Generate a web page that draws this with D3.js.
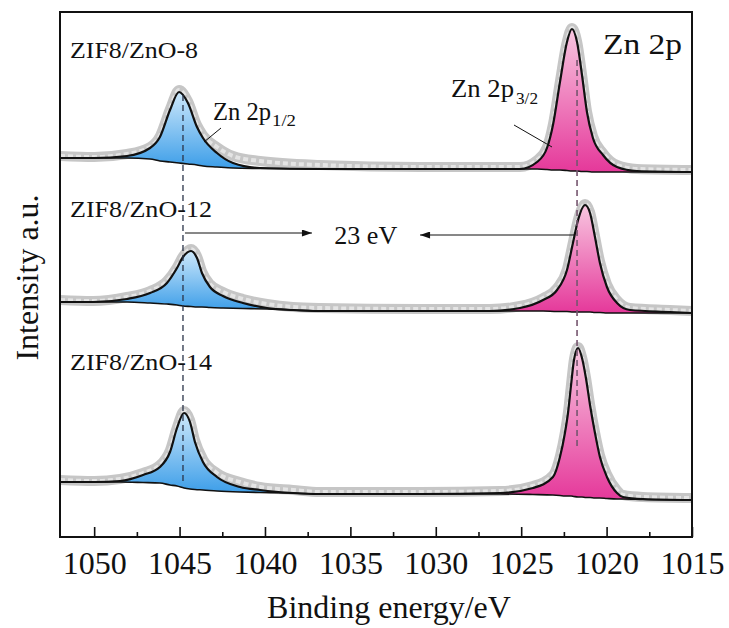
<!DOCTYPE html>
<html>
<head>
<meta charset="utf-8">
<title>Zn 2p XPS</title>
<script src="https://cdn.jsdelivr.net/npm/d3@7"></script>
<style>
  body { margin: 0; background: #fff; }
</style>
</head>
<body>
<script>

// binding energy (eV) and stacked intensity (a.u.)
// ZIF8/ZnO-8 (top)
let energy8 = [1052, 1050.0, 1048.08, 1046.73, 1046.15, 1045.56, 1045.03, 1044.51, 1043.98, 1043.63,
  1042.81, 1041.87, 1040.29, 1036.78, 1030.92, 1025.07, 1024.07, 1023.49, 1023.14, 1022.73,
  1022.32, 1022.03, 1021.73, 1021.44, 1021.15, 1020.80, 1020.21, 1019.39, 1018.22, 1015];
let fit8 = [379, 379, 381, 389, 400, 427, 445, 434, 410, 399,
  384, 374, 369, 368, 368, 368, 375, 389, 412, 455,
  495, 508, 495, 462, 425, 399, 382, 370, 366, 365];
let bg8 = [379, 379, 379, 378, 376, 375, 374, 373, 372, 371,
  370, 369, 368.5, 368, 368, 368, 368, 367.5, 367, 367,
  366.5, 366, 366, 365.5, 365.5, 365, 365, 365, 365, 365];
let raw8 = [381, 380, 383, 390, 401, 428, 447, 436, 412, 402,
  390, 381, 376, 372, 370, 370, 377, 390, 413, 456,
  496, 509, 496, 463, 426, 401, 384, 372, 368, 367];

// ZIF8/ZnO-12 (middle)
let energy12 = [1052, 1050.07, 1048.08, 1046.73, 1045.74, 1045.15, 1044.80, 1044.33, 1043.98, 1043.69,
  1043.22, 1042.46, 1041.29, 1039.88, 1038.36, 1036.78, 1030.92, 1026.83, 1025.07, 1023.72,
  1022.90, 1022.32, 1021.97, 1021.67, 1021.26, 1020.97, 1020.68, 1020.39, 1019.98, 1019.39,
  1018.63, 1016.29, 1015];
let fit12 = [235, 235, 238, 244, 254, 269, 280, 286, 279, 264,
  250, 241, 234, 229, 227, 226, 226, 226, 229, 237,
  247, 267, 294, 317, 332, 324, 300, 274, 250, 234,
  227, 225, 224];
let bg12 = [235, 235, 235, 234, 233, 232, 231, 230.5, 230, 230,
  229.5, 229, 228.5, 228, 227, 226, 226, 226, 226, 226,
  225.5, 225.5, 225, 225, 225, 225, 224.5, 224.5, 224, 224,
  224, 224, 224];
let raw12 = [237, 236, 240, 246, 256, 270, 281, 288, 281, 266,
  253, 245, 238, 233, 230, 229, 228, 228, 231, 239,
  249, 268, 295, 318, 333, 325, 301, 276, 253, 237,
  229, 227, 226];

// ZIF8/ZnO-14 (bottom)
let energy14 = [1052, 1050.0, 1048.49, 1047.14, 1046.15, 1045.56, 1045.15, 1044.74, 1044.39, 1044.10,
  1043.63, 1042.81, 1041.46, 1040.29, 1038.36, 1036.78, 1030.92, 1026.24, 1024.31, 1023.14,
  1022.73, 1022.44, 1022.26, 1022.08, 1021.91, 1021.67, 1021.44, 1021.21, 1020.97, 1020.68,
  1020.39, 1019.98, 1019.39, 1019.04, 1017.87, 1015];
let fit14 = [55, 55, 56, 62, 70, 85, 109, 124, 115, 95,
  75, 60, 50, 47, 44, 43, 43, 44, 49, 60,
  80, 104, 124, 152, 177, 189, 179, 159, 132, 104,
  80, 60, 44, 40, 38, 37];
let bg14 = [55, 55, 55, 54.5, 54, 52, 51, 49, 48, 47.5,
  47, 46, 45, 44.5, 44, 43, 43, 43, 42.5, 42,
  41.5, 41, 41, 41, 40.5, 40, 40, 39.5, 39.5, 39,
  39, 38.5, 38, 38, 37.5, 37];
let raw14 = [57, 56, 58, 64, 72, 87, 110, 126, 117, 97,
  78, 64, 55, 50, 47, 45, 45, 46, 51, 62,
  81, 105, 125, 153, 178, 190, 180, 160, 133, 105,
  82, 63, 47, 42, 40, 39];

let sampleNames = ['ZIF8/ZnO-8', 'ZIF8/ZnO-12', 'ZIF8/ZnO-14'];
let xTicks = [1050, 1045, 1040, 1035, 1030, 1025, 1020, 1015];
let xMinorTicks = [1047.5, 1042.5, 1037.5, 1032.5, 1027.5, 1022.5, 1017.5];
// peak positions of the dashed guides (eV)
let peakLines = [1044.8, 1021.73];
// energy splitting 2p1/2 (blue) and 2p3/2 (pink) components
let splitEnergy = 1033;

let serif = 'Liberation Serif';

window.onload = function() {
  draw();
};

function svg_element(margin, w, h) {
  let svg = d3.select('body')
    .append('svg')
    .attr('width', w + margin.left + margin.right)
    .attr('height', h + margin.top + margin.bottom)
    .append('g')
    .attr('transform', `translate(${margin.left},${margin.top})`);
  return svg;
}

function gradient(defs, id, top, bottom) {
  let g = defs.append('linearGradient')
    .attr('id', id)
    .attr('x1', 0).attr('y1', 0)
    .attr('x2', 0).attr('y2', 1);
  g.append('stop').attr('offset', '0%').attr('stop-color', top);
  g.append('stop').attr('offset', '100%').attr('stop-color', bottom);
}

// plain serif text, optionally squeezed/stretched to a given width
function label(svg, x, y, size, str, len) {
  let t = svg.append('text')
    .attr('x', x)
    .attr('y', y)
    .attr('font-family', serif)
    .attr('font-size', size)
    .attr('fill', '#111')
    .text(str);
  if (len) {
    t.attr('textLength', len).attr('lengthAdjust', 'spacingAndGlyphs');
  }
  return t;
}

function draw() {

  let margin = {top: 12, right: 37, bottom: 91, left: 60};
  let w = 729 - margin.left - margin.right;
  let h = 628 - margin.top - margin.bottom;
  let svg = svg_element(margin, w, h);

  let x = d3.scaleLinear().domain([1052, 1015]).range([0, w]);
  let y = d3.scaleLinear().domain([0, 525]).range([h, 0]);

  let defs = svg.append('defs');
  gradient(defs, 'blueGrad', '#cde8fb', '#3b9de8');
  gradient(defs, 'pinkGrad', '#f8c6e0', '#e5389a');
  defs.append('clipPath').attr('id', 'plotClip')
    .append('rect').attr('width', w).attr('height', h);
  defs.append('marker')
    .attr('id', 'arrow')
    .attr('viewBox', '0 0 10 7')
    .attr('refX', 10).attr('refY', 3.5)
    .attr('markerWidth', 11).attr('markerHeight', 7)
    .attr('markerUnits', 'userSpaceOnUse')
    .attr('orient', 'auto')
    .append('path')
    .attr('d', 'M0,0 L10,3.5 L0,7 z')
    .attr('fill', '#111');

  let spectra = [
    {e: energy8, fit: fit8, bg: bg8, raw: raw8},
    {e: energy12, fit: fit12, bg: bg12, raw: raw12},
    {e: energy14, fit: fit14, bg: bg14, raw: raw14}
  ];

  let plot = svg.append('g').attr('clip-path', 'url(#plotClip)');

  let line = d3.line()
    .x(d => x(d[0]))
    .y(d => y(d[1]))
    .curve(d3.curveMonotoneX);

  let area = d3.area()
    .x(d => x(d.e))
    .y0(d => y(d.b))
    .y1(d => y(d.f))
    .curve(d3.curveMonotoneX);

  spectra.forEach(function(s) {
    let pts = s.e.map((e, i) => ({e: e, f: s.fit[i], b: s.bg[i]}));

    // raw data band (grey open circles in the original)
    let rawPts = s.e.map((e, i) => [e, s.raw[i]]);
    plot.append('path')
      .attr('d', line(rawPts))
      .attr('fill', 'none')
      .attr('stroke', '#c6c6c6')
      .attr('stroke-width', 10)
      .attr('stroke-linejoin', 'round')
      .attr('stroke-linecap', 'round');
    plot.append('path')
      .attr('d', line(rawPts))
      .attr('fill', 'none')
      .attr('stroke', '#e4e4e4')
      .attr('stroke-width', 4)
      .attr('stroke-dasharray', '5,3')
      .attr('stroke-linejoin', 'round');

    // fitted components
    plot.append('path')
      .attr('d', area(pts.filter(p => p.e >= splitEnergy)))
      .attr('fill', 'url(#blueGrad)');
    plot.append('path')
      .attr('d', area(pts.filter(p => p.e <= splitEnergy)))
      .attr('fill', 'url(#pinkGrad)');

    // background and envelope
    plot.append('path')
      .attr('d', line(s.e.map((e, i) => [e, s.bg[i]])))
      .attr('fill', 'none')
      .attr('stroke', '#111')
      .attr('stroke-width', 1.6);
    plot.append('path')
      .attr('d', line(s.e.map((e, i) => [e, s.fit[i]])))
      .attr('fill', 'none')
      .attr('stroke', '#111')
      .attr('stroke-width', 2.2);
  });

  // dashed guides through the peaks
  svg.append('line')
    .attr('x1', x(peakLines[0])).attr('x2', x(peakLines[0]))
    .attr('y1', y(442)).attr('y2', y(55))
    .attr('stroke', '#2a3348')
    .attr('stroke-width', 1.3)
    .attr('stroke-dasharray', '6,4');
  svg.append('line')
    .attr('x1', x(peakLines[1])).attr('x2', x(peakLines[1]))
    .attr('y1', y(477)).attr('y2', y(90))
    .attr('stroke', '#76566f')
    .attr('stroke-width', 1.6)
    .attr('stroke-dasharray', '6,4');

  // 23 eV spin-orbit splitting arrows
  svg.append('line')
    .attr('x1', x(peakLines[0]) + 2).attr('x2', x(1037.25))
    .attr('y1', y(304)).attr('y2', y(304))
    .attr('stroke', '#111').attr('stroke-width', 1)
    .attr('marker-end', 'url(#arrow)');
  svg.append('line')
    .attr('x1', x(peakLines[1]) - 2).attr('x2', x(1030.92))
    .attr('y1', y(302)).attr('y2', y(302))
    .attr('stroke', '#111').attr('stroke-width', 1)
    .attr('marker-end', 'url(#arrow)');
  label(svg, x(1034.1), y(293), 25, '23 eV', 63)
    .attr('text-anchor', 'middle');

  // sample labels
  let labelY = [46, 205, 358];
  let labelLen = [128, 142, 142];
  sampleNames.forEach(function(name, i) {
    label(svg, 10, labelY[i], 23, name, labelLen[i]);
  });

  label(svg, 543, 42, 30, 'Zn 2p', 79);

  // peak annotations with leader lines
  label(svg, 153, 108, 25, 'Zn 2p', 58);
  label(svg, 212, 114, 16, '1/2', 24);
  svg.append('line')
    .attr('x1', 161).attr('y1', 116).attr('x2', 144).attr('y2', 130)
    .attr('stroke', '#111').attr('stroke-width', 1);

  label(svg, 391, 85, 25, 'Zn 2p', 63);
  label(svg, 456, 92, 16, '3/2', 22);
  svg.append('line')
    .attr('x1', 454).attr('y1', 113).attr('x2', 492).attr('y2', 135)
    .attr('stroke', '#111').attr('stroke-width', 1);

  // x axis, ticks pointing inward
  let axis = svg.append('g')
    .attr('transform', `translate(0,${h})`)
    .call(d3.axisBottom(x)
      .tickValues(xTicks)
      .tickSize(-10)
      .tickPadding(14)
      .tickFormat(d3.format('d')));
  axis.attr('font-family', serif).attr('font-size', 32);
  axis.select('.domain').remove();
  axis.selectAll('line').attr('stroke', '#111').attr('stroke-width', 1.6);
  axis.selectAll('text')
    .attr('fill', '#111')
    .attr('font-family', serif)
    .attr('font-size', 32);

  let minor = svg.append('g')
    .attr('transform', `translate(0,${h})`)
    .call(d3.axisBottom(x)
      .tickValues(xMinorTicks)
      .tickSize(-5)
      .tickFormat(''));
  minor.select('.domain').remove();
  minor.selectAll('line').attr('stroke', '#111').attr('stroke-width', 1.6);

  // frame
  svg.append('rect')
    .attr('width', w)
    .attr('height', h)
    .attr('fill', 'none')
    .attr('stroke', '#111')
    .attr('stroke-width', 2);

  // axis titles
  label(svg, 329, h + 81, 32, 'Binding energy/eV')
    .attr('text-anchor', 'middle');

  label(svg, 0, 0, 32, 'Intensity a.u.')
    .attr('text-anchor', 'middle')
    .attr('transform', `translate(-22,${h / 2 + 3})rotate(-90)`);
}
</script>
</body>
</html>
